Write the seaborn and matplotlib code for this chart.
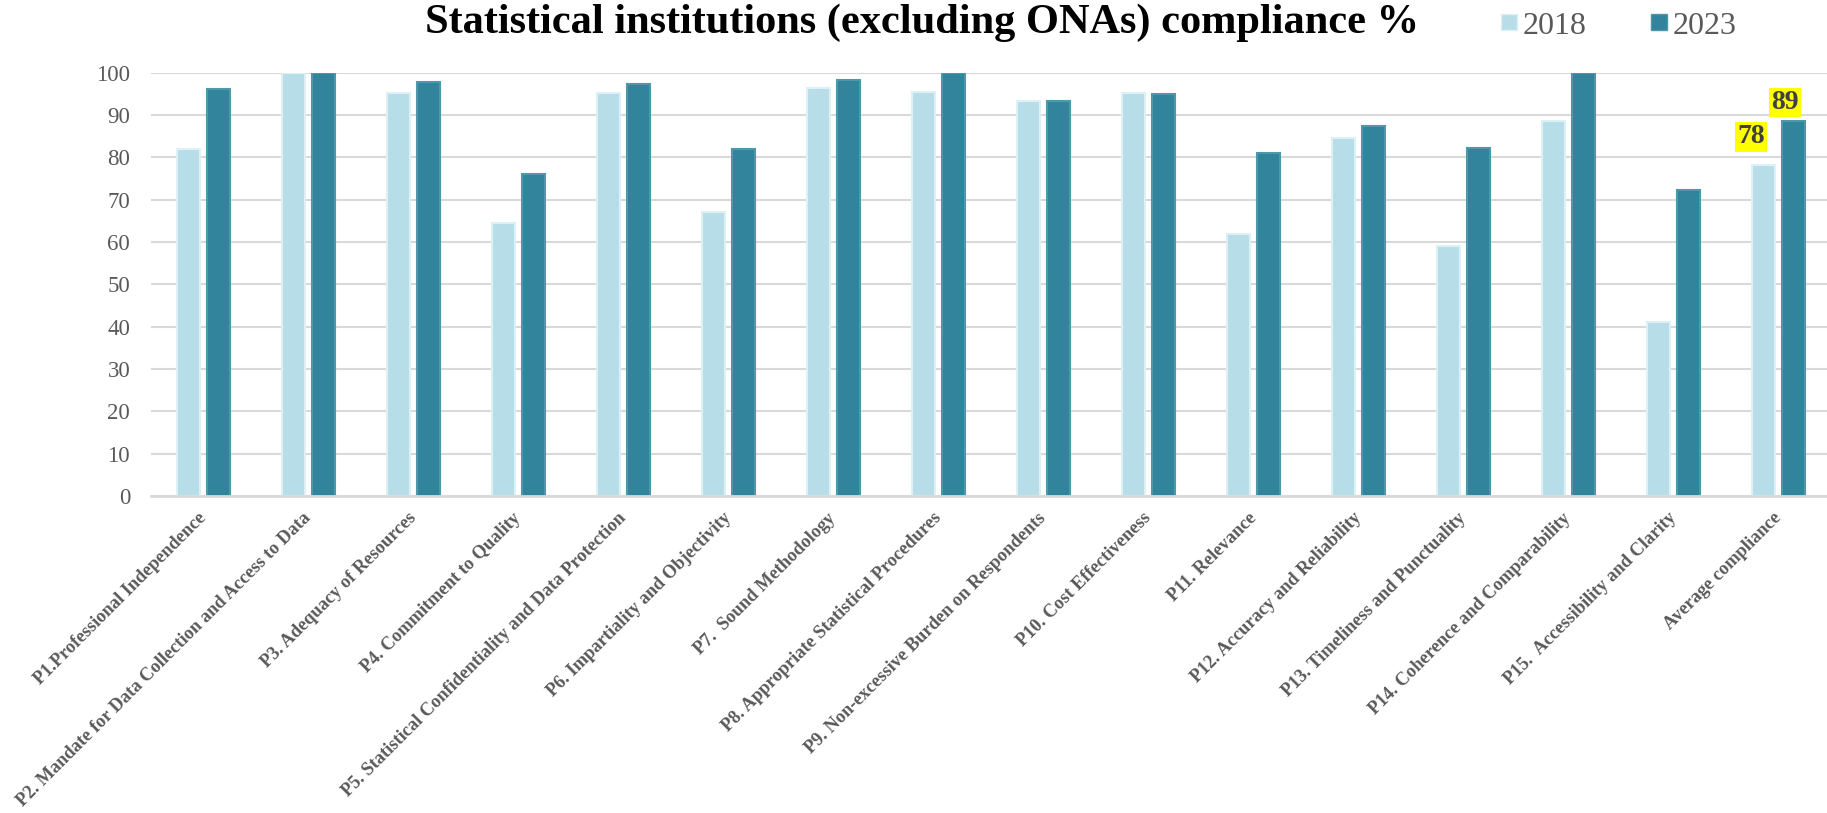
import numpy as np
import pandas as pd
import matplotlib.pyplot as plt
import seaborn as sns
from matplotlib.lines import Line2D

# principles (x categories)
principles = [
    "P1.Professional Independence",
    "P2. Mandate for Data Collection and Access to Data",
    "P3. Adequacy of Resources",
    "P4. Commitment to Quality",
    "P5. Statistical Confidentiality and Data Protection",
    "P6. Impartiality and Objectivity",
    "P7.  Sound Methodology",
    "P8. Appropriate Statistical Procedures",
    "P9. Non-excessive Burden on Respondents",
    "P10. Cost Effectiveness",
    "P11. Relevance",
    "P12. Accuracy and Reliability",
    "P13. Timeliness and Punctuality",
    "P14. Coherence and Comparability",
    "P15.  Accessibility and Clarity",
    "Average compliance",
]
years = ["2018", "2023"]

# compliance %
vals_2018 = [82.0, 100.0, 95.1, 64.6, 95.2, 67.2, 96.3, 95.5, 93.3, 95.1, 62.0, 84.6, 59.1, 88.5, 41.0, 78.3]
vals_2023 = [96.1, 100.0, 97.7, 76.0, 97.3, 81.9, 98.2, 100.0, 93.2, 95.0, 81.0, 87.5, 82.1, 100.0, 72.4, 88.7]
avg_labels = ["78", "89"]

colors = ["#b7dee8", "#31849b"]
edges = ["#dcf0f5", "#4f97ab"]
grey = "#595959"

df = pd.DataFrame({
    "principle": principles * 2,
    "year": [years[0]] * len(principles) + [years[1]] * len(principles),
    "score": vals_2018 + vals_2023,
})

sns.set_style("white")
plt.rcParams["font.family"] = ["Liberation Serif", "DejaVu Serif"]

fig = plt.figure(figsize=(18.27, 8.13), dpi=100)
ax = fig.add_axes([151 / 1827, 317 / 813, 1680 / 1827, 423.3 / 813])

sns.barplot(data=df, x="principle", y="score", hue="year", palette=colors, saturation=1,
            width=0.57, gap=0.22, linewidth=1.5, ax=ax, legend=False)

for cont, ec in zip(ax.containers, edges):
    for p in cont:
        p.set_edgecolor(ec)

ax.set_xlim(-0.5, 15.5)
ax.set_ylim(0, 100)
ax.set_yticks(np.arange(0, 101, 10))
ax.yaxis.grid(True, color="#d9d9d9", linewidth=1.5)
ax.set_axisbelow(True)
for s in ["top", "right", "left"]:
    ax.spines[s].set_visible(False)
ax.spines["bottom"].set_color("#d9d9d9")
ax.spines["bottom"].set_linewidth(2)
ax.set_xlabel("")
ax.set_ylabel("")

ax.tick_params(axis="y", length=0, pad=15, labelsize=16.5, labelcolor=grey)
ax.tick_params(axis="x", length=0, pad=14)
ax.set_xticks(range(len(principles)))
ax.set_xticklabels(principles, rotation=45, ha="right", va="center",
                   rotation_mode="anchor", fontsize=13.2, fontweight="bold", color=grey)

# highlighted labels on the average bars
offsets = [(-9, 20), (-6, 13)]
for cont, txt, off in zip(ax.containers, avg_labels, offsets):
    p = cont[-1]
    ax.annotate(txt, (p.get_x() + p.get_width() / 2, p.get_height()),
                xytext=off, textcoords="offset points", ha="center", va="center",
                fontsize=20, fontweight="bold", color="#404040",
                bbox=dict(boxstyle="square,pad=0.08", facecolor="#ffff00", edgecolor="none"))

fig.text(922 / 1827, 1 - 33 / 813, "Statistical institutions (excluding ONAs) compliance %",
         ha="center", va="baseline", fontsize=30.5, fontweight="bold", color="black")

handles = [Line2D([], [], marker="s", linestyle="none", markersize=11.5,
                  markerfacecolor=c, markeredgecolor=e) for c, e in zip(colors, edges)]
leg = fig.legend(handles, years, loc="center left", bbox_to_anchor=(1487 / 1827, 1 - 26 / 813),
                 ncol=2, frameon=False, fontsize=23, handlelength=0.4, handletextpad=0.2,
                 columnspacing=2.1, borderpad=0)
for t in leg.get_texts():
    t.set_color(grey)

fig.savefig("out.png", dpi=100)
